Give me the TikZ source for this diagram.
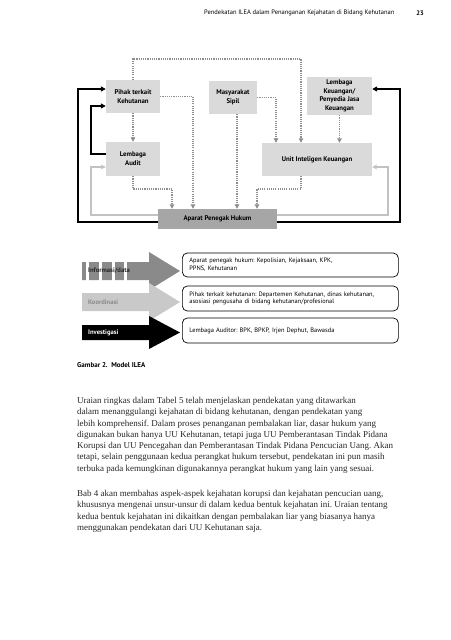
\documentclass[tikz,border=0pt]{standalone}
\usepackage{fontspec}
\setmainfont{Liberation Serif}
\setsansfont{PT Sans}
\usetikzlibrary{positioning, arrows.meta}
\frenchspacing

\definecolor{boxgray}{HTML}{DADADA}
\definecolor{darkbox}{HTML}{A6A6A6}
\definecolor{dotgray}{HTML}{8E8E8E}
\definecolor{linegray}{HTML}{C2C2C2}
\definecolor{infogray}{HTML}{8A8A8A}
\definecolor{koorgray}{HTML}{C9C9C9}

\begin{document}
\begin{tikzpicture}[x=1pt, y=-1pt, node distance=62.5pt, on grid, font=\sffamily]
    \tikzstyle{box}=[fill=boxgray, inner sep=0pt, align=center, font=\sffamily\bfseries\fontsize{6.8}{9}\selectfont]
    \tikzstyle{dots}=[draw=dotgray, line width=1.1pt, dash pattern=on 1.1pt off 1.1pt, -{Triangle[length=4.5pt, width=4.5pt]}]
    \tikzstyle{blackline}=[draw=black, line width=1.4pt, -{Triangle[length=5pt, width=5pt]}]
    \tikzstyle{greyline}=[draw=linegray, line width=1.2pt, -{Stealth[open, length=5pt, width=5pt]}]
    \tikzstyle{legbox}=[draw, rounded corners=5pt, line width=0.7pt, text width=202pt, inner xsep=7pt, align=left, anchor=west, font=\sffamily\fontsize{6.4}{7.8}\selectfont]
    \tikzstyle{legtext}=[anchor=west, inner sep=0pt, font=\sffamily\bfseries\fontsize{6.6}{8}\selectfont]

    \useasboundingbox (0,0) rectangle (450,640);

    % page head
    \node[anchor=east, font=\sffamily\fontsize{6.5}{8}\selectfont] (head) at (398,13) {Pendekatan ILEA dalam Penanganan Kejahatan di Bidang Kehutanan};
    \node[font=\sffamily\bfseries\fontsize{6.5}{8}\selectfont] (page) at (420,13) {23};

    % boxes
    \node[box, minimum width=54pt, minimum height=33pt] (pihak) at (133,96.5) {Pihak terkait\\Kehutanan};
    \node[box, minimum width=48pt, minimum height=33pt] (masy) at (233,97.5) {Masyarakat\\Sipil};
    \node[box, minimum width=65pt, minimum height=38pt, font=\sffamily\bfseries\fontsize{6.8}{8.5}\selectfont] (lk) at (339.5,96) {Lembaga\\Keuangan/\\Penyedia Jasa\\Keuangan};
    \node[box, minimum width=54pt, minimum height=34pt] (audit) [below of=pihak] {Lembaga\\Audit};
    \node[box, minimum width=110pt, minimum height=33pt] (uik) at (317,159.5) {Unit Inteligen Keuangan};
    \node[box, fill=darkbox, minimum width=119pt, minimum height=20pt] (aph) at (217.5,219) {Aparat Penegak Hukum};

    % informasi/data
    \draw[dots] (pihak.north) |- (301,59) -- (301,0 |- uik.north);
    \draw[dots] (pihak.south) -- (audit.north);
    \draw[dots] (pihak.east) -| (193,0 |- aph.north);
    \draw[dots] (237,0 |- masy.south) -- (237,0 |- aph.north);
    \draw[dots] (masy.east) -| (276,0 |- uik.north);
    \draw[dots] (lk.south) -- (lk.south |- uik.north);
    \draw[dots] (audit.south) |- (172,189) -- (172,0 |- aph.north);
    \draw[dots] (301,0 |- uik.south) |- (257,189) -- (257,0 |- aph.north);

    % investigasi
    \draw[blackline] (aph.west |- 0,222) -| (78,89) -- (pihak.west |- 0,89);
    \draw[blackline] (aph.east |- 0,222) -| (400,89) -- (lk.east |- 0,89);
    \draw[blackline] (audit.west |- 0,154) -| (91,106) -- (pihak.west |- 0,106);

    % koordinasi
    \draw[greyline] (aph.west |- 0,215) -| (91,167) -- (audit.west |- 0,167);
    \draw[greyline] (aph.east |- 0,215) -| (388,167) -- (uik.east |- 0,167);

    % legend
    \fill[infogray] (82,262) -- (149,262) -- (149,252) -- (180,271) -- (149,290) -- (149,280) -- (82,280) -- cycle;
    \foreach \x in {86,99,112,124}
        \fill[white] (\x,261) rectangle ++(3,20);
    \fill[koorgray] (82,293) -- (149,293) -- (149,283) -- (180,302) -- (149,321) -- (149,311) -- (82,311) -- cycle;
    \fill[black] (82,325) -- (149,325) -- (149,316) -- (180,332.5) -- (149,349) -- (149,340) -- (82,340) -- cycle;

    \node[legtext, text=black!85] (l_info) at (88,271) {Informasi/data};
    \node[legtext, text=infogray] (l_koor) at (88,302) {Koordinasi};
    \node[legtext, text=white] (l_inv) at (88,332.5) {Investigasi};

    \node[legbox, minimum height=24pt] (k_info) at (182,265) {Aparat penegak hukum: Kepolisian, Kejaksaan, KPK,\\PPNS, Kehutanan};
    \node[legbox, minimum height=25pt] (k_koor) at (182,298.5) {Pihak terkait kehutanan: Departemen Kehutanan, dinas kehutanan,\\asosiasi pengusaha di bidang kehutanan/profesional};
    \node[legbox, minimum height=25pt] (k_inv) at (182,330.5) {Lembaga Auditor: BPK, BPKP, Irjen Dephut, Bawasda};

    % caption and text
    \node[anchor=west, inner sep=0pt, font=\sffamily\bfseries\fontsize{7}{8}\selectfont] (cap) at (77,365) {Gambar 2.\ \ Model ILEA};

    \node[anchor=north west, inner sep=0pt, align=left, text=black!85, font=\rmfamily\fontsize{9}{11.3}\selectfont] (par1) at (77,397) {Uraian ringkas dalam Tabel 5 telah menjelaskan pendekatan yang ditawarkan\\
    dalam menanggulangi kejahatan di bidang kehutanan, dengan pendekatan yang\\
    lebih komprehensif. Dalam proses penanganan pembalakan liar, dasar hukum yang\\
    digunakan bukan hanya UU Kehutanan, tetapi juga UU Pemberantasan Tindak Pidana\\
    Korupsi dan UU Pencegahan dan Pemberantasan Tindak Pidana Pencucian Uang. Akan\\
    tetapi, selain penggunaan kedua perangkat hukum tersebut, pendekatan ini pun masih\\
    terbuka pada kemungkinan digunakannya perangkat hukum yang lain yang sesuai.};
    \node[anchor=north west, inner sep=0pt, align=left, text=black!85, font=\rmfamily\fontsize{9}{11.3}\selectfont] (par2) at (77,490) {Bab 4 akan membahas aspek-aspek kejahatan korupsi dan kejahatan pencucian uang,\\
    khususnya mengenai unsur-unsur di dalam kedua bentuk kejahatan ini. Uraian tentang\\
    kedua bentuk kejahatan ini dikaitkan dengan pembalakan liar yang biasanya hanya\\
    menggunakan pendekatan dari UU Kehutanan saja.};
\end{tikzpicture}
\end{document}
